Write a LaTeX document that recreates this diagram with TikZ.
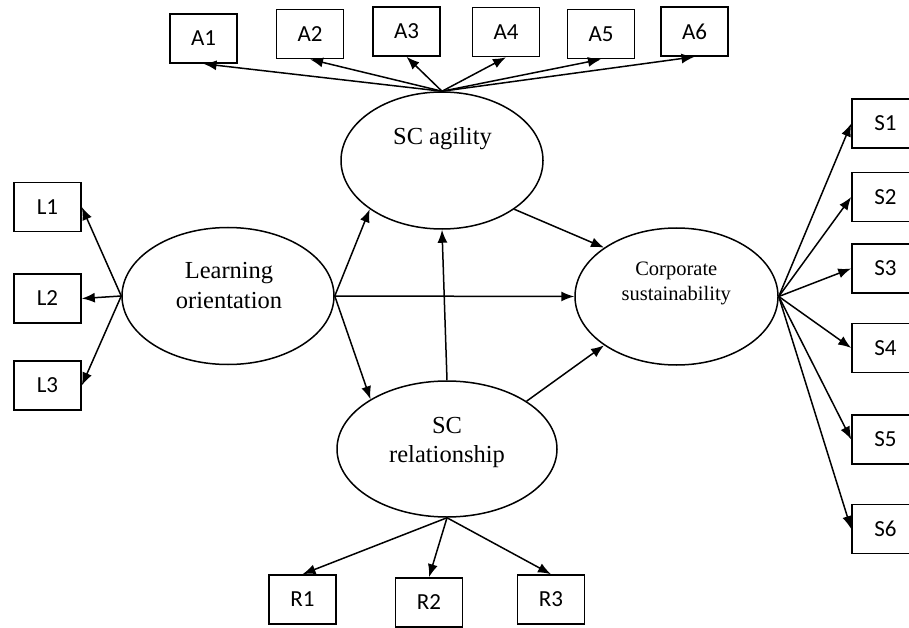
\documentclass[tikz,border=0pt]{standalone}
\usepackage{fontspec}
\setmainfont{Liberation Serif}
\newfontfamily\boxfont{Carlito}
\usetikzlibrary{arrows.meta}
\usetikzlibrary{shapes,positioning}

\begin{document}
\begin{tikzpicture}[x=1pt,y=-1pt,on grid,>={Latex[length=13pt,width=10pt]},
		item/.style={rectangle,draw=black,line width=1.6pt,minimum width=67pt,minimum height=49pt,inner sep=0pt,font=\boxfont\fontsize{23}{26}\selectfont},
		latent/.style={ellipse,draw=black,line width=1.5pt,inner sep=0pt},
		lattext/.style={align=center,inner sep=0pt,font=\fontsize{24.5}{29.5}\selectfont}]
		\useasboundingbox (0,0) rectangle (909,628);
		
		\node[latent,minimum width=212pt,minimum height=137pt] (lo)      at (228,296)     {};
		\node[latent,minimum width=202pt,minimum height=137pt] (agility) at (442,160.5)   {};
		\node[latent,minimum width=220pt,minimum height=136pt] (rel)     at (447,449)     {};
		\node[latent,minimum width=203pt,minimum height=137pt] (cs)      at (676.5,296.5) {};
		
		\node[lattext] (tlo)      at (229,285.3)   {Learning\\orientation};
		\node[lattext] (tagility) at (442.5,138.4) {SC agility};
		\node[lattext] (trel)     at (447,442.4)   {SC\\relationship};
		\node[lattext,font=\fontsize{20.5}{25}\selectfont] (tcs) at (676.3,283.7) {Corporate\\sustainability};
		
		% indicators
		\node[item]  (a1) at (203.5,38.5)                   {A1};
		\node[item]  (a2) [right=106.5pt of a1,yshift=4.5pt] {A2};
		\node[item]  (a3) [right=96.5pt of a2,yshift=2.5pt]  {A3};
		\node[item]  (a4) [right=99.5pt of a3,yshift=-0.5pt] {A4};
		\node[item]  (a5) [right=95pt of a4,yshift=-2pt]     {A5};
		\node[item]  (a6) [right=93.5pt of a5,yshift=2.5pt]  {A6};
		
		\node[item]  (l1) at (47.5,207)      {L1};
		\node[item]  (l2) [below=91.5pt of l1] {L2};
		\node[item]  (l3) [below=87pt of l2]   {L3};
		
		\node[item]  (s1) at (885.5,123.5)   {S1};
		\node[item]  (s2) [below=73.5pt of s1] {S2};
		\node[item]  (s3) [below=71.5pt of s2] {S3};
		\node[item]  (s4) [below=79.5pt of s3] {S4};
		\node[item]  (s5) [below=91.5pt of s4] {S5};
		\node[item]  (s6) [below=89.5pt of s5] {S6};
		
		\node[item]  (r1) at (302.5,599.5)                 {R1};
		\node[item]  (r2) [right=126.5pt of r1,yshift=-3pt] {R2};
		\node[item]  (r3) [right=122pt of r2,yshift=3pt]    {R3};
		
		\path[->,line width=1.5pt]
		(agility.north) edge (a1.south)
		(agility.north) edge (a2.south)
		(agility.north) edge (a3.south)
		(agility.north) edge (a4.south)
		(agility.north) edge (a5.south)
		(agility.north) edge (a6.south)
		(lo.west) edge (l1.east)
		(lo.west) edge (l2.east)
		(lo.west) edge (l3.east)
		(cs.east) edge (s1.west)
		(cs.east) edge (s2.west)
		(cs.east) edge (s3.west)
		(cs.east) edge (s4.west)
		(cs.east) edge (s5.west)
		(cs.east) edge (s6.west)
		(rel.south) edge (r1.north)
		(rel.south) edge (r2.north)
		(rel.south) edge (r3.north)
		% structural paths
		(lo.east) edge (agility.214)
		(lo.east) edge (rel.147)
		(lo.east) edge (cs.west)
		(rel.north) edge (agility.south)
		(rel.31.5) edge (cs.214)
		(agility.326) edge (cs.146);
\end{tikzpicture}
\end{document}
